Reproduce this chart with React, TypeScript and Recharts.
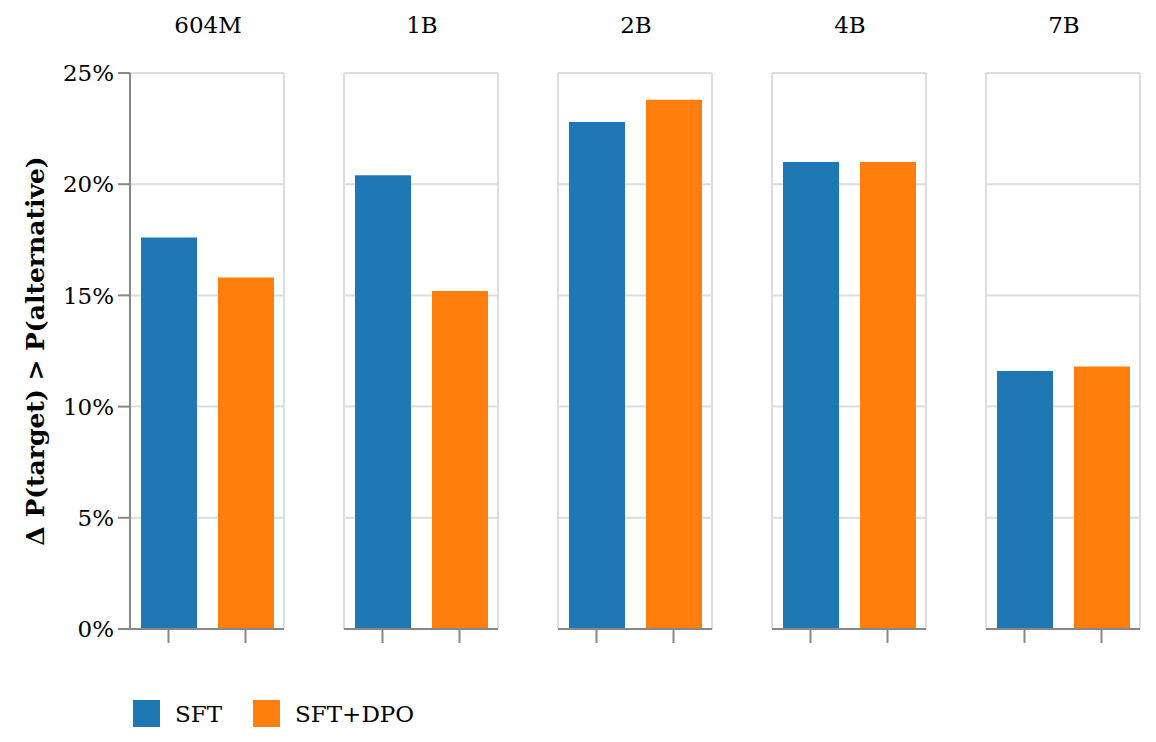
import React from "react";
import { BarChart, Bar, Cell, XAxis, YAxis, CartesianGrid } from "recharts";

const MODELS = ["604M", "1B", "2B", "4B", "7B"];
const METHODS = ["SFT", "SFT+DPO"];
const SFT = [17.6, 20.4, 22.8, 21.0, 11.6];
const SFT_DPO = [15.8, 15.2, 23.8, 21.0, 11.8];
const Y_TICKS = [0, 5, 10, 15, 20, 25];

const COLORS: Record<string, string> = {
  SFT: "#1f77b4",
  "SFT+DPO": "#ff7f0e",
};

const FONT = "'DejaVu Serif', serif";
const AXIS_GRAY = "#888888";
const GRID_GRAY = "#dddddd";

const PLOT_W = 154;
const PLOT_TOP = 73;
const PLOT_H = 556;
const X_AXIS_H = 30;
const STEP = 214;
const FIRST_LEFT = 130;
const Y_AXIS_W = 75;

// frame edges of the plot area
const frameEdges = ({ offset }: any) => [offset.left, offset.left + offset.width];

// x ticks carry no label, only the tick line
const NoLabel = () => <g />;

function Facet({ index }: { index: number }) {
  const data = METHODS.map((m) => ({
    method: m,
    value: m === "SFT" ? SFT[index] : SFT_DPO[index],
  }));
  const first = index === 0;
  const plotLeft = FIRST_LEFT + index * STEP;
  const marginLeft = first ? plotLeft - Y_AXIS_W : 10;
  const chartLeft = first ? 0 : plotLeft - marginLeft;
  const width = (first ? plotLeft : marginLeft) + PLOT_W + 10;

  return (
    <div style={{ position: "absolute", left: chartLeft, top: 0 }}>
      <BarChart
        width={width}
        height={PLOT_TOP + PLOT_H + X_AXIS_H}
        data={data}
        margin={{ top: PLOT_TOP, right: 10, bottom: 0, left: marginLeft }}
      >
        <CartesianGrid
          stroke={GRID_GRAY}
          strokeWidth={2}
          verticalCoordinatesGenerator={frameEdges}
        />
        <XAxis
          dataKey="method"
          type="category"
          height={X_AXIS_H}
          tick={NoLabel}
          tickSize={14}
          axisLine={{ stroke: AXIS_GRAY, strokeWidth: 2 }}
          tickLine={{ stroke: AXIS_GRAY, strokeWidth: 2 }}
        />
        <YAxis
          hide={!first}
          width={Y_AXIS_W}
          domain={[0, 25]}
          ticks={Y_TICKS}
          allowDataOverflow
          tickFormatter={(v) => `${v}%`}
          tickSize={12}
          tickMargin={4}
          tick={{ fill: "#000", fontSize: 23, fontFamily: FONT }}
          axisLine={{ stroke: AXIS_GRAY, strokeWidth: 2 }}
          tickLine={{ stroke: AXIS_GRAY, strokeWidth: 2 }}
        />
        <Bar dataKey="value" barSize={56} isAnimationActive={false}>
          {data.map((d) => (
            <Cell key={d.method} fill={COLORS[d.method]} />
          ))}
        </Bar>
      </BarChart>
    </div>
  );
}

export default function App() {
  return (
    <div
      style={{
        position: "absolute",
        left: 0,
        top: 0,
        width: 1156,
        height: 742,
        background: "#fff",
        fontFamily: FONT,
        overflow: "hidden",
      }}
    >
      {MODELS.map((m, i) => (
        <div
          key={m}
          style={{
            position: "absolute",
            left: FIRST_LEFT + 1 + i * STEP,
            width: PLOT_W,
            top: 10,
            textAlign: "center",
            fontSize: 23,
            lineHeight: "30px",
            color: "#000",
          }}
        >
          {m}
        </div>
      ))}

      {MODELS.map((m, i) => (
        <Facet key={m} index={i} />
      ))}

      <svg
        width={60}
        height={742}
        style={{ position: "absolute", left: 0, top: 0 }}
      >
        <text
          x={0}
          y={0}
          transform={`translate(44, ${PLOT_TOP + PLOT_H / 2}) rotate(-90)`}
          textAnchor="middle"
          fontFamily={FONT}
          fontWeight="bold"
          fontSize={25}
          fill="#000"
        >
          Δ P(target) &gt; P(alternative)
        </text>
      </svg>

      <div
        style={{
          position: "absolute",
          left: 133,
          top: 700,
          display: "flex",
          alignItems: "center",
          fontSize: 23,
          color: "#000",
        }}
      >
        {METHODS.map((m) => (
          <div key={m} style={{ display: "flex", alignItems: "center", marginRight: 31 }}>
            <div style={{ width: 27, height: 27, background: COLORS[m], marginRight: 15 }} />
            <span>{m}</span>
          </div>
        ))}
      </div>
    </div>
  );
}
